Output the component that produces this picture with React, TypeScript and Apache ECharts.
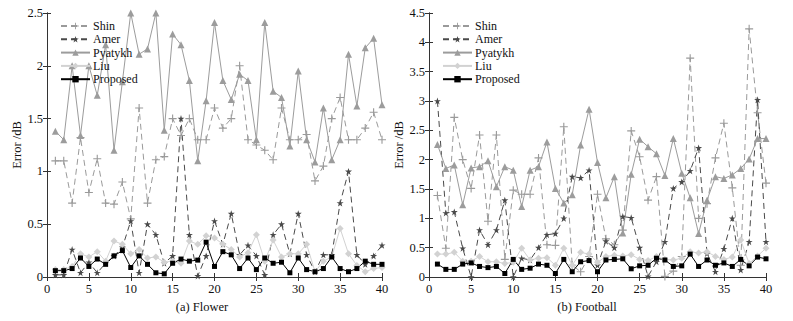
import React, { useEffect, useRef } from "react";
import * as echarts from "echarts";

const xValues = Array.from({ length: 40 }, (_, i) => i + 1);
const seriesNames = ["Shin", "Amer", "Pyatykh", "Liu", "Proposed"];
const panelTitles = ["(a) Flower", "(b) Football"];

const flowerShin = [1.10,1.10,0.70,1.32,0.80,1.12,0.70,0.69,0.90,0.55,1.60,0.70,1.11,1.14,1.50,1.34,1.50,1.30,1.30,1.60,1.41,1.50,2.00,1.30,1.25,1.20,1.11,1.60,1.30,1.30,1.35,0.91,1.05,1.50,1.70,1.30,1.30,1.41,1.56,1.30];
const flowerAmer = [0.02,0.02,0.26,0.04,0.14,0.04,0.13,0.20,0.28,0.53,0.04,0.50,0.40,0.13,0.20,1.50,0.40,0.01,0.20,0.53,0.31,0.60,0.21,0.30,0.20,0.02,0.40,0.50,0.22,0.60,0.21,0.05,0.21,0.21,0.70,1.00,0.21,0.12,0.20,0.30];
const flowerPyatykh = [1.38,1.30,2.00,1.34,2.00,1.72,2.20,1.20,1.85,2.50,2.11,2.16,2.50,1.39,2.30,2.20,1.86,1.10,1.67,2.41,1.86,1.68,1.92,1.86,1.30,2.41,1.76,1.70,1.24,1.95,1.30,1.09,1.60,1.11,1.30,2.11,1.62,2.17,2.26,1.63];
const flowerLiu = [0.07,0.07,0.10,0.22,0.19,0.24,0.15,0.34,0.31,0.22,0.26,0.18,0.19,0.14,0.15,0.13,0.34,0.31,0.39,0.37,0.31,0.26,0.19,0.23,0.40,0.15,0.35,0.19,0.22,0.22,0.31,0.05,0.15,0.19,0.46,0.22,0.11,0.05,0.08,0.09];
const flowerProposed = [0.06,0.06,0.08,0.18,0.10,0.17,0.12,0.20,0.25,0.09,0.20,0.12,0.04,0.03,0.13,0.17,0.15,0.16,0.33,0.10,0.24,0.21,0.08,0.18,0.07,0.18,0.13,0.14,0.04,0.18,0.07,0.05,0.08,0.19,0.08,0.05,0.08,0.15,0.12,0.12];

const footballShin = [1.39,0.49,2.72,2.00,1.51,2.42,0.95,2.42,0.30,1.48,1.41,1.41,2.03,0.55,0.54,2.56,0.20,0.09,0.35,1.41,0.65,0.55,0.80,2.49,2.05,1.31,1.71,0.01,0.10,0.35,3.73,1.00,1.25,2.03,2.62,1.52,0.20,4.23,2.80,1.60];
const footballAmer = [3.00,1.09,1.11,0.49,0.00,0.80,0.55,0.80,1.31,0.00,0.32,0.29,0.50,0.72,0.74,1.00,1.71,1.69,1.82,0.20,0.61,0.50,1.03,1.01,0.50,0.01,0.26,0.60,1.51,1.62,1.81,2.20,0.40,0.09,0.48,1.00,0.12,0.60,3.02,0.60];
const footballPyatykh = [2.26,1.85,1.91,1.23,1.86,1.88,1.98,1.54,1.88,1.82,1.20,1.82,1.88,2.30,1.51,1.26,1.40,2.25,2.86,1.95,1.35,1.71,0.75,1.75,2.35,2.22,2.10,1.73,2.36,1.77,1.35,0.74,1.31,1.71,1.68,1.74,1.85,2.01,2.36,2.36];
const footballLiu = [0.39,0.39,0.42,0.27,0.27,0.35,0.26,0.26,0.23,0.25,0.49,0.29,0.32,0.33,0.20,0.49,0.20,0.42,0.39,0.25,0.35,0.37,0.36,0.38,0.30,0.28,0.35,0.30,0.29,0.32,0.43,0.41,0.43,0.35,0.30,0.34,0.63,0.23,0.36,0.49];
const footballProposed = [0.22,0.13,0.13,0.22,0.24,0.18,0.16,0.18,0.06,0.30,0.13,0.15,0.22,0.20,0.06,0.30,0.09,0.26,0.28,0.09,0.29,0.30,0.31,0.14,0.19,0.20,0.32,0.29,0.18,0.19,0.39,0.18,0.29,0.20,0.24,0.18,0.30,0.19,0.34,0.31];

const flowerData = [flowerShin, flowerAmer, flowerPyatykh, flowerLiu, flowerProposed];
const footballData = [footballShin, footballAmer, footballPyatykh, footballLiu, footballProposed];

const FONT = "Liberation Serif";
const CROSS = "path://M4.3,0H5.7V4.3H10V5.7H5.7V10H4.3V5.7H0V4.3H4.3Z";
const STAR = "path://M5,0L6.2,3.8L10,3.8L6.9,6.1L8.1,10L5,7.6L1.9,10L3.1,6.1L0,3.8L3.8,3.8Z";

const styles = [
  { color: "#9a9a9a", type: [6, 4], symbol: CROSS, size: 8 },
  { color: "#4a4a4a", type: [6, 4], symbol: STAR, size: 7 },
  { color: "#9c9c9c", type: "solid", symbol: "triangle", size: 7 },
  { color: "#d2d2d2", type: "solid", symbol: "diamond", size: 7 },
  { color: "#000000", type: "solid", symbol: "rect", size: 5 },
];

const grids = [
  { left: 47, top: 13, width: 335, height: 264 },
  { left: 429, top: 13, width: 337, height: 264 },
];
const yMax = [2.5, 4.5];
const nameGaps = [21, 17];
const titlePos = [
  { x: 202, y: 307 },
  { x: 587, y: 307 },
];

export default function App() {
  const ref = useRef<HTMLDivElement>(null);
  useEffect(() => {
    if (!ref.current) return;
    const chart = echarts.init(ref.current, null, { renderer: "svg" });
    const axisLine = { show: true, lineStyle: { color: "#333", width: 1 } };
    const tick = { show: true, inside: true, length: 4, lineStyle: { color: "#333" } };
    const label = { fontFamily: FONT, fontSize: 12.5, color: "#111" };
    const xAxis: any[] = [];
    const yAxis: any[] = [];
    grids.forEach((_, g) => {
      xAxis.push({
        type: "value", gridIndex: g, min: 0, max: 40, interval: 5, position: "bottom",
        axisLine, axisTick: tick, splitLine: { show: false },
        axisLabel: { ...label, margin: 5 },
      });
      xAxis.push({
        type: "value", gridIndex: g, min: 0, max: 40, interval: 5, position: "top",
        axisLine, axisTick: tick, splitLine: { show: false }, axisLabel: { show: false },
      });
      yAxis.push({
        type: "value", gridIndex: g, min: 0, max: yMax[g], interval: 0.5, position: "left",
        axisLine, axisTick: tick, splitLine: { show: false },
        axisLabel: { ...label, margin: 4 },
        name: "Error /dB", nameLocation: "middle", nameGap: nameGaps[g],
        nameTextStyle: { fontFamily: FONT, fontSize: 12.5, color: "#111" },
      });
      yAxis.push({
        type: "value", gridIndex: g, min: 0, max: yMax[g], interval: 0.5, position: "right",
        axisLine, axisTick: tick, splitLine: { show: false }, axisLabel: { show: false },
      });
    });
    const series: any[] = [];
    [flowerData, footballData].forEach((panel, g) => {
      panel.forEach((vals, s) => {
        const st = styles[s];
        series.push({
          type: "line", name: seriesNames[s], xAxisIndex: g * 2, yAxisIndex: g * 2,
          data: vals.map((v, i) => [xValues[i], v]),
          symbol: st.symbol, symbolSize: st.size, showSymbol: true, clip: false,
          lineStyle: { color: st.color, width: 1, type: st.type },
          itemStyle: { color: st.color, borderWidth: 0 },
          emphasis: { disabled: true },
        });
      });
    });
    const legends = grids.map((gr) => ({
      data: seriesNames,
      orient: "vertical", left: gr.left + 13, top: 19.5, padding: 0,
      itemWidth: 29, itemHeight: 8, itemGap: 0.3,
      textStyle: { fontFamily: FONT, fontSize: 12, lineHeight: 13, color: "#111", padding: [0, 0, 0, -2] },
      selectedMode: false,
    }));
    chart.setOption({
      animation: false,
      backgroundColor: "#ffffff",
      grid: grids,
      xAxis, yAxis, series,
      legend: legends,
      graphic: titlePos.map((p, g) => ({
        type: "text", x: p.x, y: p.y,
        style: { text: panelTitles[g], fontFamily: FONT, fontSize: 12.5, fill: "#111", textAlign: "center", textVerticalAlign: "middle" },
      })),
    });
    return () => chart.dispose();
  }, []);
  return <div ref={ref} style={{ position: "fixed", left: 0, top: 0, width: 793, height: 321 }} />;
}
